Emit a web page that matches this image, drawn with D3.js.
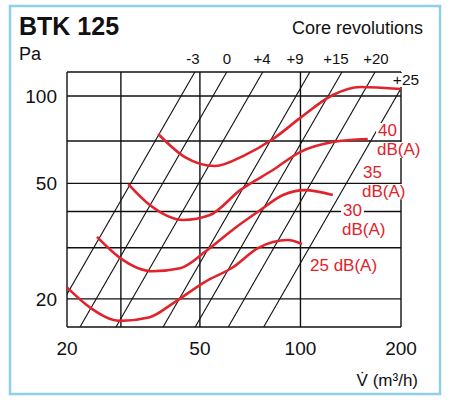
<!DOCTYPE html>
<html><head><meta charset="utf-8">
<script src="https://cdn.jsdelivr.net/npm/d3@7"></script>
<style>body{margin:0;background:#fff}text{font-family:"Liberation Sans",Arial,sans-serif}</style>
</head><body><div id="paper"></div>
<script>
// grid + tick values
var xTicks = [20, 50, 100, 200]
var xGrid = [20, 29, 50, 100, 200]
var yTicks = [20, 50, 100]
var yGrid = [20, 30, 40, 50, 70, 100]

// core revolution system lines: flow (m3/h) where each line crosses 100 Pa
var revLabels = ['-3', '0', '+4', '+9', '+15', '+20', '+25']
var revV100 = [43.9, 54.7, 70.1, 97, 121, 152, 194]
var revLabelX = [193, 227, 262, 295, 336, 376]

// sound level curves [V, Pa]
var db40 = [[37.5,74],[45.1,61.6],[55.5,57.4],[68.2,62.6],[82.7,71.1],[99.7,83.9],[125,100.8],[151,107.4],[200,105.7]]
var db35 = [[30.5,49.7],[35.4,42.1],[44.5,37.4],[53.6,38.9],[66,47.4],[82.7,55.6],[99.7,64.1],[125,69.4],[159,71.1]]
var db30 = [[24.6,32.7],[28.8,27.7],[36.1,24.9],[43.6,25.5],[52.5,29.4],[63.7,35.1],[75.7,40.4],[88.7,45.6],[103,47.4],[125,45.6]]
var db25 = [[20,21.9],[23.4,18.7],[28.8,16.8],[35.4,17.3],[41.5,19.3],[51.8,22.9],[62.8,25.7],[74.6,29.9],[82.7,31.4],[91.8,31.9],[101,30.9]]

var red = '#e2232b'
var svg = d3.select('#paper').append('svg').attr('width', 451).attr('height', 410)

var x = d3.scaleLog().domain([20, 200]).range([67, 401])
var y = d3.scaleLog().domain([16, 121]).range([327, 72])

svg.append('rect').attr('x', 10).attr('y', 6).attr('width', 430).attr('height', 388)
    .attr('fill', 'none').attr('stroke', '#8fd0e8').attr('stroke-width', 2.5)

svg.append('defs').append('clipPath').attr('id', 'plot')
    .append('rect').attr('x', 67).attr('y', 72).attr('width', 334).attr('height', 255)

var g = svg.append('g')

// grid
g.selectAll('.vg').data(xGrid).join('line')
    .attr('x1', d => x(d)).attr('x2', d => x(d)).attr('y1', y(16)).attr('y2', y(121))
    .attr('stroke', '#111').attr('stroke-width', 1.4)
g.selectAll('.hg').data(yGrid).join('line')
    .attr('x1', x(20)).attr('x2', x(200)).attr('y1', d => y(d)).attr('y2', d => y(d))
    .attr('stroke', '#111').attr('stroke-width', 1.4)
g.append('line').attr('x1', x(20)).attr('x2', x(200)).attr('y1', y(121)).attr('y2', y(121))
    .attr('stroke', '#111').attr('stroke-width', 1.4)
g.append('line').attr('x1', x(20)).attr('x2', x(200)).attr('y1', y(16)).attr('y2', y(16))
    .attr('stroke', '#111').attr('stroke-width', 1.4)

// system lines, p ~ V^2
g.append('g').attr('clip-path', 'url(#plot)').selectAll('line').data(revV100).join('line')
    .attr('x1', d => x(d * Math.sqrt(0.1))).attr('y1', y(10))
    .attr('x2', d => x(d * Math.sqrt(1.5))).attr('y2', y(150))
    .attr('stroke', '#111').attr('stroke-width', 1.1)

// sound curves
var line = d3.line().x(d => x(d[0])).y(d => y(d[1])).curve(d3.curveMonotoneX)
g.selectAll('.c').data([db40, db35, db30, db25]).join('path')
    .attr('d', line).attr('fill', 'none').attr('stroke', red).attr('stroke-width', 2.6)

// labels with white backing
function label(txt, lx, ly, col, size, anchor) {
    var t = svg.append('text').attr('x', lx).attr('y', ly).attr('fill', col)
        .attr('font-size', size).attr('text-anchor', anchor || 'start').text(txt)
    var b = t.node().getBBox()
    svg.insert('rect', 'text').attr('x', b.x - 2).attr('y', b.y + 2).attr('width', b.width + 4)
        .attr('height', b.height - 3).attr('fill', '#fff')
    return t
}
label('+25', 406, 85, '#111', 15.5, 'middle')
label('40', 378, 136, red, 17); label('dB(A)', 377, 155, red, 17)
label('35', 363, 178, red, 17); label('dB(A)', 362, 197, red, 17)
label('30', 343, 216, red, 17); label('dB(A)', 342, 235, red, 17)
label('25 dB(A)', 310, 271, red, 17)

svg.selectAll('.rl').data(revLabels.slice(0, 6)).join('text')
    .attr('x', (d, i) => revLabelX[i]).attr('y', 64).attr('text-anchor', 'middle')
    .attr('font-size', 15).attr('fill', '#111').text(d => d)

// axes text
svg.selectAll('.xt').data(xTicks).join('text')
    .attr('x', d => x(d)).attr('y', 355).attr('text-anchor', 'middle')
    .attr('font-size', 19).attr('fill', '#111').text(d => d)
svg.selectAll('.yt').data(yTicks).join('text')
    .attr('x', 57).attr('y', d => y(d) + 7).attr('text-anchor', 'end')
    .attr('font-size', 19).attr('fill', '#111').text(d => d)

svg.append('text').attr('x', 19).attr('y', 35).attr('font-size', 25).attr('font-weight', 'bold')
    .attr('fill', '#111').text('BTK 125')
svg.append('text').attr('x', 19).attr('y', 60).attr('font-size', 18).attr('fill', '#111').text('Pa')
svg.append('text').attr('x', 423).attr('y', 34).attr('text-anchor', 'end').attr('font-size', 18)
    .attr('fill', '#111').text('Core revolutions')
svg.append('text').attr('x', 418).attr('y', 386).attr('text-anchor', 'end').attr('font-size', 17)
    .attr('fill', '#111').text('V\u0307 (m\u00b3/h)')
</script></body></html>
